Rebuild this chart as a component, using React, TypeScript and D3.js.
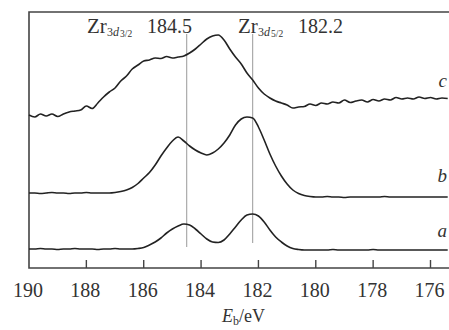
import React from "react"
import * as d3 from "d3"

// binding energy grid (eV)
const energy = [
  190.0, 189.8, 189.6, 189.4, 189.2, 189.0, 188.8, 188.6, 188.4, 188.2,
  188.0, 187.8, 187.6, 187.4, 187.2, 187.0, 186.8, 186.6, 186.4, 186.2,
  186.0, 185.8, 185.6, 185.4, 185.2, 185.0, 184.8, 184.6, 184.4, 184.2,
  184.0, 183.8, 183.6, 183.4, 183.2, 183.0, 182.8, 182.6, 182.4, 182.2,
  182.0, 181.8, 181.6, 181.4, 181.2, 181.0, 180.8, 180.6, 180.4, 180.2,
  180.0, 179.8, 179.6, 179.4, 179.2, 179.0, 178.8, 178.6, 178.4, 178.2,
  178.0, 177.8, 177.6, 177.4, 177.2, 177.0, 176.8, 176.6, 176.4, 176.2,
  176.0, 175.8, 175.6, 175.4,
]

// intensities (a.u., curves already offset)
const seriesA = [
  19, 19, 19.5, 19, 19, 18.5, 19, 19, 19.5, 19,
  19, 19, 18.5, 19, 19, 19.5, 19, 19, 19, 19.5,
  20.5, 23, 26, 30, 35, 39, 42, 44, 43, 39,
  34, 29, 26, 25.5, 28, 34, 41, 48, 53, 54,
  52, 46, 38, 31, 26, 22, 19.5, 18.5, 18, 18,
  18, 18, 18, 18.5, 18, 18, 18, 18, 18, 18,
  18.5, 18, 18, 18, 18, 18, 18, 18, 18, 18,
  18, 18, 18, 18,
]

const seriesB = [
  75, 75, 74.5, 75, 75.5, 75, 75, 74.5, 75, 75,
  75.5, 75, 75, 75, 75, 75.5, 76.5, 78, 80.5, 84.5,
  90, 95.5, 103, 112, 120, 127, 131, 127, 122, 118,
  115, 113, 115, 119, 125, 133, 143, 149, 151, 150,
  141, 128, 114, 102, 92, 84, 78, 74.5, 72.5, 71.5,
  71, 71, 71.5, 71, 71, 70.5, 71, 71, 71, 71,
  71, 71, 71.5, 71, 71, 71, 71, 71, 71, 71,
  71, 71, 71, 71,
]

const seriesC = [
  153, 151, 154, 152, 154, 151.5, 154, 156, 157, 158,
  162, 159.5, 165, 171, 176, 180, 187, 192, 199, 203,
  207, 208, 210, 209.5, 211.5, 210, 211, 212, 215, 219,
  224, 229, 232, 233, 228, 219, 211, 204, 195, 188,
  180, 174, 170, 167, 165, 163, 160, 161, 161.5, 164,
  162.5, 165, 164, 166, 165, 168, 165.5, 167, 168, 166,
  168.5, 167, 169, 168, 170.5, 169, 170, 169, 171, 169.5,
  170.5, 169, 170, 169.5,
]

const curveNames = ["a", "b", "c"]
const tickValues = [190, 188, 186, 184, 182, 180, 178, 176]
const peakEnergies = [184.5, 182.2]
const peakSubs = [["3", "d", "3/2"], ["3", "d", "5/2"]]

const W = 449
const H = 330
const left = 29
const top = 12
const bottom = 268

const serif = "'Liberation Serif', 'Times New Roman', serif"

export default function App() {
  const x = d3.scaleLinear().domain([190, 176]).range([left, 430.5])
  const y = d3.scaleLinear().domain([0, 256]).range([bottom, top])

  const series = [seriesA, seriesB, seriesC]
  const line = d3
    .line<number>()
    .x((_, i) => x(energy[i]))
    .y((d) => y(d))
    .curve(d3.curveMonotoneX)

  const labelY = [237, 182, 87]
  const vlineEnd = [247, 243]

  return (
    <svg
      width={W}
      height={H}
      style={{ position: "absolute", left: 0, top: 0, background: "#fff" }}
      fontFamily={serif}
    >
      {/* frame */}
      <path
        d={`M${W},${top}H${left}V${bottom}H${W}`}
        fill="none"
        stroke="#444"
        strokeWidth={1.6}
      />

      {/* ticks */}
      {tickValues.map((t) => (
        <g key={t}>
          {t !== 190 && (
            <line x1={x(t)} x2={x(t)} y1={bottom} y2={bottom - 8} stroke="#444" strokeWidth={1.4} />
          )}
          <text x={x(t) - 1} y={297} fontSize={20} textAnchor="middle" fill="#333">
            {t}
          </text>
        </g>
      ))}

      {/* peak markers */}
      {peakEnergies.map((p, i) => (
        <line
          key={p}
          x1={x(p)}
          x2={x(p)}
          y1={34}
          y2={vlineEnd[i]}
          stroke="#999"
          strokeWidth={1}
        />
      ))}

      {peakEnergies.map((p, i) => {
        const x0 = i === 0 ? 87 : 238
        return (
          <g key={"lab" + p} fill="#333">
            <text x={x0} y={33} fontSize={21}>Zr</text>
            <text x={x0 + 20} y={36} fontSize={12}>
              {peakSubs[i][0]}
              <tspan fontStyle="italic">{peakSubs[i][1]}</tspan>
            </text>
            <text x={x0 + 33} y={37} fontSize={9.5}>{peakSubs[i][2]}</text>
            <text x={x0 + 60} y={33} fontSize={20}>{p.toFixed(1)}</text>
          </g>
        )
      })}

      {/* spectra */}
      {series.map((s, i) => (
        <path key={curveNames[i]} d={line(s) || ""} fill="none" stroke="#222" strokeWidth={1.6} />
      ))}

      {curveNames.map((n, i) => (
        <text key={"n" + n} x={447} y={labelY[i]} fontSize={19} fontStyle="italic" textAnchor="end" fill="#333">
          {n}
        </text>
      ))}

      {/* axis title */}
      <text x={222} y={322} fontSize={18} fill="#333">
        <tspan fontStyle="italic">E</tspan>
        <tspan fontSize={12} dy={3}>b</tspan>
        <tspan dy={-3}>/eV</tspan>
      </text>
    </svg>
  )
}
